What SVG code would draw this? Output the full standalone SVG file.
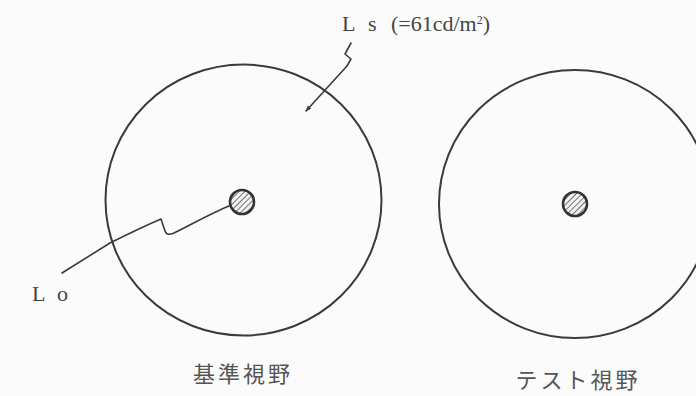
<svg xmlns="http://www.w3.org/2000/svg" width="696" height="396" viewBox="0 0 696 396">
  <style>
    .ring { fill: none; stroke: #3a3a3a; stroke-width: 2; }
    .spot { fill: url(#hatch); stroke: #333; stroke-width: 2.6; }
    .lead { fill: none; stroke: #3a3a3a; stroke-width: 1.6; stroke-linejoin: round; stroke-linecap: round; }
    .lbl { font-family: "Liberation Serif", serif; font-size: 22px; fill: #444; }
    .jp { font-family: "Noto Sans CJK JP", sans-serif; font-size: 22px; fill: #555; letter-spacing: 3px; }
  </style>
  <defs>
    <pattern id="hatch" patternUnits="userSpaceOnUse" width="4" height="4" patternTransform="rotate(45)">
      <rect width="4" height="4" fill="#f4f4f4"/>
      <line x1="0" y1="0" x2="0" y2="4" stroke="#555" stroke-width="1.6"/>
    </pattern>
    <marker id="arr" viewBox="0 0 10 10" refX="9" refY="5" markerWidth="6" markerHeight="6" orient="auto" markerUnits="userSpaceOnUse">
      <path d="M0,1 L10,5 L0,9 Z" fill="#3a3a3a"/>
    </marker>
  </defs>
  <rect width="696" height="396" fill="#fcfbfb"/>

  <g id="reference-field">
    <ellipse class="ring" cx="243.5" cy="200" rx="138" ry="135.5"/>
    <circle class="spot" cx="242" cy="202" r="12"/>
    <text class="jp" x="243" y="382" text-anchor="middle">基準視野</text>
  </g>

  <g id="test-field">
    <ellipse class="ring" cx="575" cy="204" rx="136" ry="134"/>
    <circle class="spot" cx="575" cy="204" r="12"/>
    <text class="jp" x="578" y="388" text-anchor="middle">テスト視野</text>
  </g>

  <g id="label-ls">
    <text class="lbl" y="31"><tspan x="342">L</tspan><tspan x="368">s</tspan><tspan x="391">(=61cd/m</tspan><tspan dy="-7" font-size="12">2</tspan><tspan dy="7">)</tspan></text>
  </g>

  <g id="label-lo">
    <text class="lbl" x="32" y="301">L<tspan x="57">o</tspan></text>
  </g>

  <g id="connectors">
    <path class="lead" marker-end="url(#arr)" d="M351,43 L345,54 L351,59 L347,66 L306,111"/>
    <path class="lead" d="M229,206 C214,212 192,224 176,232 Q167,237 165,231 L161,219 C140,228 120,238 110,243 L62,273"/>
  </g>
</svg>
